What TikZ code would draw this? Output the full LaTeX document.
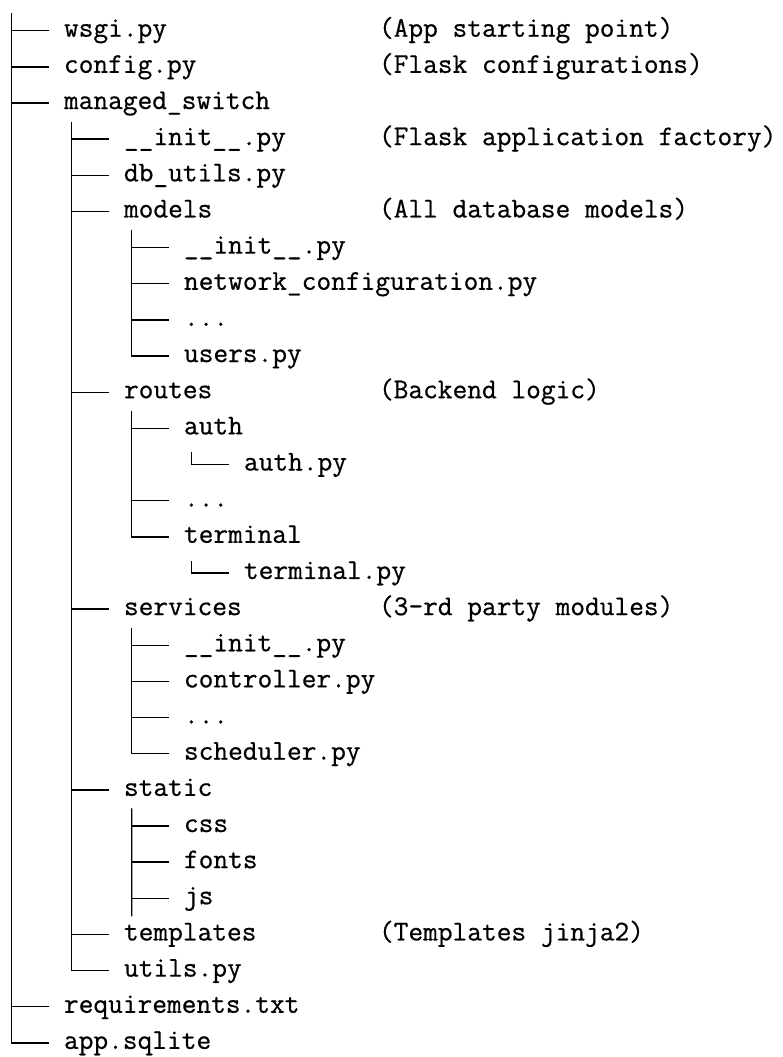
\documentclass[tikz,border=0pt]{standalone}
\usepackage{fontspec}
\usetikzlibrary{calc}

% slightly heavier typewriter face for the listing
\newfontfamily\treefont[FakeBold=0.6]{Latin Modern Mono}

% one unit = one pixel of a 783 x 1057 canvas, y pointing down
\tikzset{
  x=0.5pt, y=-0.5pt,
  item/.style={anchor=base west, inner sep=0pt, outer sep=0pt,
    font=\treefont\fontsize{14.29}{17}\selectfont},
  branch/.style={line width=0.7pt, draw=black, line cap=butt},
}

% \entry{name}{level}{row}{text}
\newcommand\entry[4]{\node[item] (#1) at ({4+60*#2},{36.7+36.15*(#3-1)}) {#4};}
% \remark{name}{row}{text}
\newcommand\remark[3]{\node[item] (#1) at (379,{36.7+36.15*(#2-1)}) {#3};}

\begin{document}
\begin{tikzpicture}
\useasboundingbox (0,0) rectangle (783,1057);

% file and folder names
\entry{wsgi}{1}{1}{wsgi.py}
\entry{config}{1}{2}{config.py}
\entry{ms}{1}{3}{managed\_switch}
\entry{msinit}{2}{4}{\_\_init\_\_.py}
\entry{dbutils}{2}{5}{db\_utils.py}
\entry{models}{2}{6}{models}
\entry{modelsinit}{3}{7}{\_\_init\_\_.py}
\entry{netconf}{3}{8}{network\_configuration.py}
\entry{modelsdots}{3}{9}{...}
\entry{users}{3}{10}{users.py}
\entry{routes}{2}{11}{routes}
\entry{auth}{3}{12}{auth}
\entry{authpy}{4}{13}{auth.py}
\entry{routesdots}{3}{14}{...}
\entry{terminal}{3}{15}{terminal}
\entry{terminalpy}{4}{16}{terminal.py}
\entry{services}{2}{17}{services}
\entry{servicesinit}{3}{18}{\_\_init\_\_.py}
\entry{controller}{3}{19}{controller.py}
\entry{servicesdots}{3}{20}{...}
\entry{scheduler}{3}{21}{scheduler.py}
\entry{static}{2}{22}{static}
\entry{css}{3}{23}{css}
\entry{fonts}{3}{24}{fonts}
\entry{js}{3}{25}{js}
\entry{templates}{2}{26}{templates}
\entry{utils}{2}{27}{utils.py}
\entry{req}{1}{28}{requirements.txt}
\entry{app}{1}{29}{app.sqlite}

% comments column
\remark{rwsgi}{1}{(App starting point)}
\remark{rconfig}{2}{(Flask configurations)}
\remark{rmsinit}{4}{(Flask application factory)}
\remark{rmodels}{6}{(All database models)}
\remark{rroutes}{11}{(Backend logic)}
\remark{rservices}{17}{(3-rd party modules)}
\remark{rtemplates}{26}{(Templates jinja2)}

% horizontal branches
\foreach \c in {wsgi,config,ms,req,app,
  msinit,dbutils,models,routes,services,static,templates,utils,
  modelsinit,netconf,modelsdots,users,
  auth,routesdots,terminal,
  servicesinit,controller,servicesdots,scheduler,
  css,fonts,js,authpy,terminalpy}
  \draw[branch] ($(\c.base west)+(-52.3,-6)$) -- ++(37.6,0);

% vertical trunks
\coordinate (roottop) at ($(wsgi.base west)+(-52.3,-23.4)$);
\draw[branch] (roottop) |- ($(app.base west)+(-14.7,-6)$);
\draw[branch] ($(ms.base west)+(7.7,12.5)$) |- ($(utils.base west)+(-14.7,-6)$);
\draw[branch] ($(models.base west)+(7.7,12.5)$) |- ($(users.base west)+(-14.7,-6)$);
\draw[branch] ($(routes.base west)+(7.7,12.5)$) |- ($(terminal.base west)+(-14.7,-6)$);
\draw[branch] ($(services.base west)+(7.7,12.5)$) |- ($(scheduler.base west)+(-14.7,-6)$);
\draw[branch] ($(static.base west)+(7.7,12.5)$) -- ($(js.base west)+(-52.3,12)$);
\draw[branch] ($(auth.base west)+(7.7,18)$) |- ($(authpy.base west)+(-14.7,-6)$);
\draw[branch] ($(terminal.base west)+(7.7,18)$) |- ($(terminalpy.base west)+(-14.7,-6)$);
\end{tikzpicture}
\end{document}
